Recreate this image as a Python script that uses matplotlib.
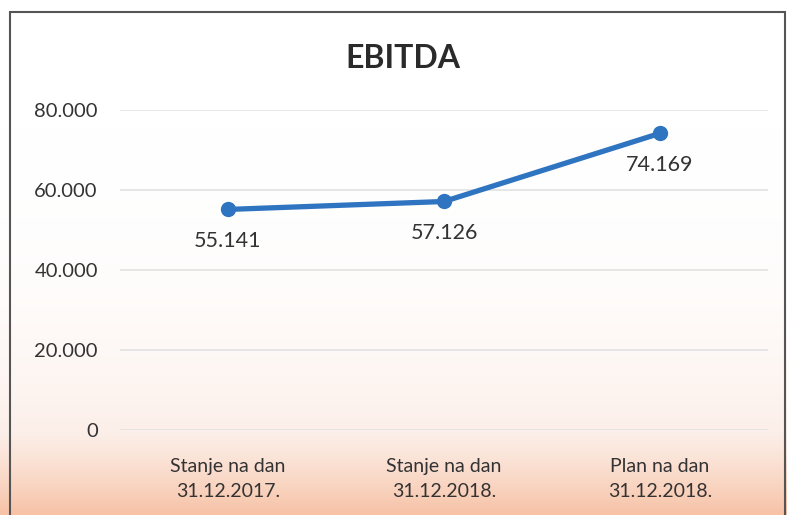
import numpy as np
import matplotlib.pyplot as plt
from matplotlib.colors import LinearSegmentedColormap
from matplotlib.patches import Rectangle

categories = ['Stanje na dan\n31.12.2017.', 'Stanje na dan\n31.12.2018.', 'Plan na dan\n31.12.2018.']
values = [55141, 57126, 74169]
value_labels = ['55.141', '57.126', '74.169']
y_ticks = [0, 20000, 40000, 60000, 80000]
y_tick_labels = ['0', '20.000', '40.000', '60.000', '80.000']

plt.rcParams['font.family'] = ['Lato', 'DejaVu Sans']
text_color = '#333333'

fig = plt.figure(figsize=(7.87, 5.15), dpi=100)

# background: white at the top, fading to peach at the bottom
bg = fig.add_axes([0, 0, 1, 1], zorder=-10)
grad = np.linspace(0, 1, 256) ** 4
grad = grad.reshape(-1, 1)
cmap = LinearSegmentedColormap.from_list('peach', ['#ffffff', '#fcefe9', '#f7c2a6'])
bg.imshow(grad, aspect='auto', cmap=cmap, extent=[0, 1, 0, 1], origin='upper')
bg.set_axis_off()

# chart frame
fig.patches.append(Rectangle((10 / 787, -0.02), 775 / 787, 1.02 - 12 / 515,
                             transform=fig.transFigure, fill=False,
                             edgecolor='#555555', linewidth=1.5))

ax = fig.add_axes([120 / 787, 85 / 515, 648 / 787, 320 / 515])
ax.patch.set_alpha(0)
x = np.arange(len(values))
ax.plot(x, values, color='#2f74c0', linewidth=3.8, marker='o', markersize=10,
        solid_capstyle='round', zorder=3)
for xi, v, lab in zip(x, values, value_labels):
    ax.annotate(lab, (xi, v), xytext=(0, -32), textcoords='offset pixels',
                ha='center', va='center', fontsize=15.5, color=text_color)

ax.set_xlim(-0.5, 2.5)
ax.set_ylim(0, 80000)
ax.set_yticks(y_ticks)
ax.set_yticklabels(y_tick_labels)
ax.set_xticks(x)
ax.set_xticklabels(categories, linespacing=1.6)
ax.tick_params(axis='y', length=0, pad=16, labelsize=14.5, labelcolor=text_color)
ax.tick_params(axis='x', length=0, pad=20, labelsize=14, labelcolor=text_color)
ax.grid(axis='y', color='#e2e2e2', linewidth=1.2)
for s in ax.spines.values():
    s.set_visible(False)

fig.text(403 / 787, 1 - 58 / 515, 'EBITDA', ha='center', va='center',
         fontsize=23, fontweight='bold', color='#2a2a2a')

fig.savefig('out.png', dpi=100)
plt.close(fig)
